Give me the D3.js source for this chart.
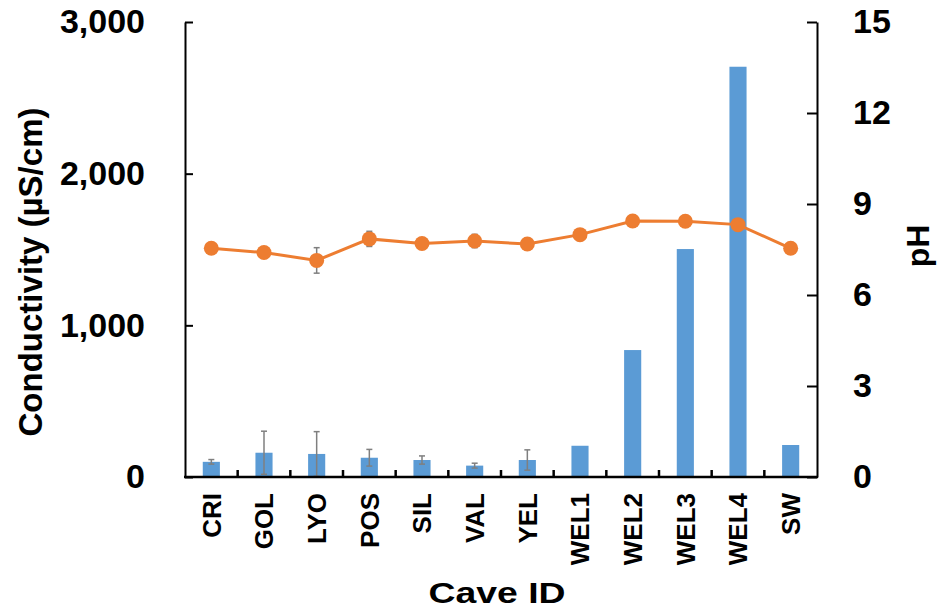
<!DOCTYPE html>
<html>
<head>
<meta charset="utf-8">
<script src="https://cdn.jsdelivr.net/npm/d3@7"></script>
<style>
  body { margin: 0; background: #fff; }
  svg text { font-family: "Liberation Sans", Arial, sans-serif; font-weight: bold; fill: #000; }
</style>
</head>
<body>
<div id="chart"></div>
<script>
// Cave conductivity (bars) and pH (line)

const categories = ['CRI', 'GOL', 'LYO', 'POS', 'SIL', 'VAL', 'YEL', 'WEL1', 'WEL2', 'WEL3', 'WEL4', 'SW'];
const conductivity = [100, 160, 152, 127, 112, 75, 112, 206, 837, 1503, 2705, 211];
const conductivityErr = [15, 142, 147, 55, 27, 16, 67, 0, 0, 0, 0, 0];
const ph = [7.54, 7.40, 7.14, 7.85, 7.70, 7.78, 7.68, 7.99, 8.44, 8.43, 8.32, 7.54];
const phErr = [0.05, 0.05, 0.42, 0.25, 0.08, 0.22, 0.05, 0.05, 0.05, 0.05, 0.05, 0.05];
const leftTicks = [0, 1000, 2000, 3000];
const rightTicks = [0, 3, 6, 9, 12, 15];

const W = 940, H = 615;
const plot = { left: 185, right: 817, top: 22, bottom: 477 };

const svg = d3.select('#chart').append('svg')
    .attr('width', W)
    .attr('height', H);

// scales
const x = d3.scaleBand()
    .domain(categories)
    .range([plot.left, plot.right])
    .padding(0);

const yL = d3.scaleLinear().domain([0, 3000]).range([plot.bottom, plot.top]);
const yR = d3.scaleLinear().domain([0, 15]).range([plot.bottom, plot.top]);

const barW = x.bandwidth() * 0.325;
const cx = c => x(c) + x.bandwidth() / 2;

// bars
svg.selectAll('.bar')
    .data(categories)
    .enter().append('rect')
    .attr('class', 'bar')
    .attr('x', c => cx(c) - barW / 2)
    .attr('width', barW)
    .attr('y', (c, i) => yL(conductivity[i]))
    .attr('height', (c, i) => plot.bottom - yL(conductivity[i]))
    .attr('fill', '#5B9BD5');

// error bars helper
function errorBars(cls, vals, errs, scale, cap) {
    const g = svg.append('g').attr('class', cls)
        .attr('stroke', '#7F7F7F').attr('stroke-width', 1.5).attr('fill', 'none');
    categories.forEach((c, i) => {
        if (!errs[i]) return;
        const lo = scale(Math.max(0, vals[i] - errs[i]));
        const hi = scale(vals[i] + errs[i]);
        const px = cx(c);
        g.append('line').attr('x1', px).attr('x2', px).attr('y1', lo).attr('y2', hi);
        g.append('line').attr('x1', px - cap).attr('x2', px + cap).attr('y1', lo).attr('y2', lo);
        g.append('line').attr('x1', px - cap).attr('x2', px + cap).attr('y1', hi).attr('y2', hi);
    });
}

errorBars('bar-err', conductivity, conductivityErr, yL, 3);

// axes
const axisL = svg.append('g')
    .attr('transform', `translate(${plot.left},0)`)
    .call(d3.axisLeft(yL).tickValues(leftTicks).tickFormat(d3.format(','))
        .tickSizeInner(-8).tickSizeOuter(0).tickPadding(40));

const axisR = svg.append('g')
    .attr('transform', `translate(${plot.right},0)`)
    .call(d3.axisRight(yR).tickValues(rightTicks)
        .tickSizeInner(-10).tickSizeOuter(0).tickPadding(36));

[axisL, axisR].forEach(a => {
    a.select('.domain').attr('stroke', '#000').attr('stroke-width', 2);
    a.selectAll('.tick line').attr('stroke', '#000').attr('stroke-width', 2);
    a.selectAll('.tick text')
        .style('font-size', '34px')
        .style('font-family', '"Liberation Sans", Arial, sans-serif')
        .style('font-weight', 'bold')
        .attr('fill', '#000');
});

// bottom axis line
svg.append('line')
    .attr('x1', plot.left - 1).attr('x2', plot.right + 1)
    .attr('y1', plot.bottom).attr('y2', plot.bottom)
    .attr('stroke', '#000').attr('stroke-width', 2.5);

// category boundary ticks
svg.selectAll('.cat-tick')
    .data(categories.slice(1))
    .enter().append('line')
    .attr('class', 'cat-tick')
    .attr('x1', c => x(c)).attr('x2', c => x(c))
    .attr('y1', plot.bottom).attr('y2', plot.bottom - 7)
    .attr('stroke', '#000').attr('stroke-width', 2.5);

// category labels
svg.selectAll('.cat-label')
    .data(categories)
    .enter().append('text')
    .attr('class', 'cat-label')
    .attr('transform', c => `translate(${cx(c)},493) rotate(-90)`)
    .attr('dy', '0.36em')
    .style('text-anchor', 'end')
    .style('font-size', '26px')
    .text(c => c);

// pH error bars, line, markers
errorBars('ph-err', ph, phErr, yR, 3);

const line = d3.line()
    .x((d, i) => cx(categories[i]))
    .y(d => yR(d));

svg.append('path')
    .datum(ph)
    .attr('d', line)
    .attr('fill', 'none')
    .attr('stroke', '#ED7D31')
    .attr('stroke-width', 3);

svg.selectAll('.pt')
    .data(ph)
    .enter().append('circle')
    .attr('class', 'pt')
    .attr('cx', (d, i) => cx(categories[i]))
    .attr('cy', d => yR(d))
    .attr('r', 7.5)
    .attr('fill', '#ED7D31');

// axis titles
svg.append('text')
    .attr('transform', 'translate(42,272) rotate(-90)')
    .style('text-anchor', 'middle')
    .style('font-size', '34px')
    .attr('textLength', 329)
    .attr('lengthAdjust', 'spacingAndGlyphs')
    .text('Conductivity (µS/cm)');

svg.append('text')
    .attr('transform', 'translate(929,246) rotate(-90)')
    .style('text-anchor', 'middle')
    .style('font-size', '32px')
    .text('pH');

svg.append('text')
    .attr('x', 497)
    .attr('y', 603)
    .style('text-anchor', 'middle')
    .style('font-size', '29px')
    .attr('textLength', 137)
    .attr('lengthAdjust', 'spacingAndGlyphs')
    .text('Cave ID');
</script>
</body>
</html>
